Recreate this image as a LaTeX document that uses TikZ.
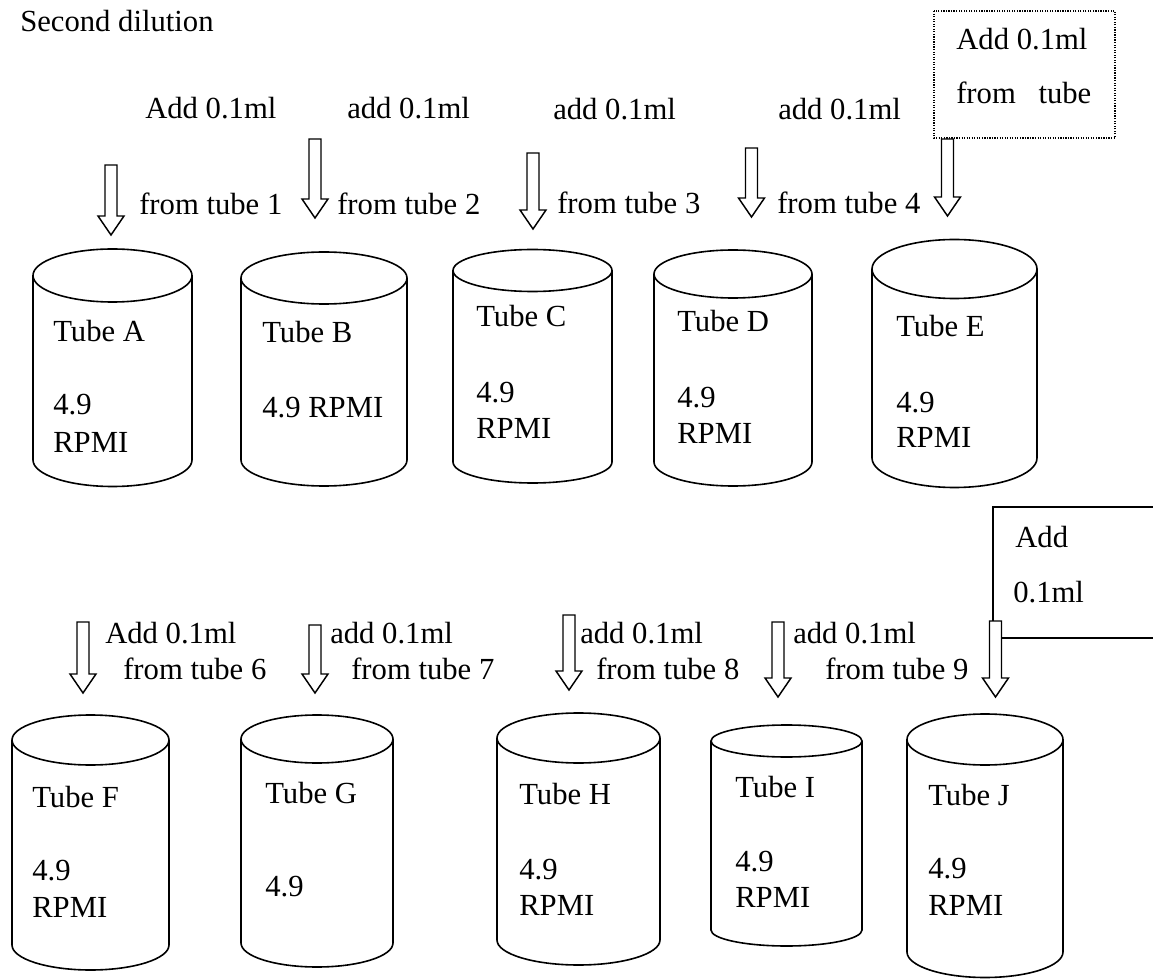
\documentclass[tikz,border=0pt]{standalone}
\usepackage{fontspec}
\setmainfont{Liberation Serif}
\usetikzlibrary{calc}

\tikzset{
  canline/.style={line width=1.2pt},
  blockline/.style={line width=1.1pt, fill=white, line join=miter},
  lbl/.style={anchor=base west, inner sep=0pt, font=\fontsize{23}{27}\selectfont},
  noteframe/.style={line width=0.9pt, densely dotted},
  openframe/.style={line width=1pt},
}

% a tube: #1 name, #2 left x, #3 right x, #4 y of the rim centre, #5 rim half-height, #6 y where the sides end
\newcommand\tubecan[6]{%
  \coordinate (#1) at ({(#2+#3)/2},#4);
  \draw[canline] (#1) ellipse [x radius={(#3-#2)/2}, y radius=#5];
  \draw[canline] (#2,#4) -- (#2,#6)
    arc[start angle=180, end angle=0, x radius={(#3-#2)/2}, y radius=#5] -- (#3,#4);
}

% hollow block arrow from coordinate #1 (shaft top) down to coordinate #2 (tip)
\newcommand\blockarrow[2]{%
  \draw[blockline] let \p1=(#1), \p2=(#2) in
    ({\x2-4.5pt},{\y1}) -- ({\x2+4.5pt},{\y1}) -- ({\x2+4.5pt},{\y2+14.25pt})
    -- ({\x2+9.75pt},{\y2+14.25pt}) -- ({\x2},{\y2}) -- ({\x2-9.75pt},{\y2+14.25pt})
    -- ({\x2-4.5pt},{\y2+14.25pt}) -- cycle;
}

\begin{document}
\begin{tikzpicture}[x=0.75pt,y=-0.75pt]
\useasboundingbox (0,0) rectangle (1153,980);

\node[lbl] (title) at (20,32) {Second dilution};

% ---------- first row ----------
\draw[noteframe] (934,11) rectangle (1115,138);
\node[lbl] (note1a) at (956,50) {Add 0.1ml};
\node[lbl] (note1b) at (956,104) {from\hspace{17pt}tube};

\node[lbl] (addA) at (145,119) {Add 0.1ml};
\node[lbl] (addB) at (347,119) {add 0.1ml};
\node[lbl] (addC) at (553,120) {add 0.1ml};
\node[lbl] (addD) at (778,120) {add 0.1ml};

\node[lbl] (from1) at (139,215) {from tube 1};
\node[lbl] (from2) at (337,215) {from tube 2};
\node[lbl] (from3) at (557,214) {from tube 3};
\node[lbl] (from4) at (777,214) {from tube 4};

\tubecan{tubeA}{33}{192}{275.5}{26.5}{460}
\tubecan{tubeB}{241}{407}{278}{26}{460}
\tubecan{tubeC}{453}{612}{270.5}{21}{462}
\tubecan{tubeD}{654}{812}{274}{24}{462}
\tubecan{tubeE}{872}{1037}{269}{29.5}{458}

\coordinate (a1t) at (111,165);   \coordinate (a1b) at (111,235);
\coordinate (a2t) at (315,139);   \coordinate (a2b) at (315,218);
\coordinate (a3t) at (533,153);   \coordinate (a3b) at (533,229);
\coordinate (a4t) at (751.5,148); \coordinate (a4b) at (751.5,217);
\coordinate (a5t) at (947.5,139); \coordinate (a5b) at (947.5,216);
\blockarrow{a1t}{a1b}
\blockarrow{a2t}{a2b}
\blockarrow{a3t}{a3b}
\blockarrow{a4t}{a4b}
\blockarrow{a5t}{a5b}

\node[lbl] (tA1) at (53,342) {Tube A};
\node[lbl] (tA2) at (53,415) {4.9};
\node[lbl] (tA3) at (53,452) {RPMI};
\node[lbl] (tB1) at (262,343) {Tube B};
\node[lbl] (tB2) at (262,418) {4.9 RPMI};
\node[lbl] (tC1) at (476,327) {Tube C};
\node[lbl] (tC2) at (476,403) {4.9};
\node[lbl] (tC3) at (476,438) {RPMI};
\node[lbl] (tD1) at (677,332) {Tube D};
\node[lbl] (tD2) at (677,407) {4.9};
\node[lbl] (tD3) at (677,443) {RPMI};
\node[lbl] (tE1) at (896,337) {Tube E};
\node[lbl] (tE2) at (896,412) {4.9};
\node[lbl] (tE3) at (896,447) {RPMI};

% ---------- second row ----------
\draw[openframe] (1153,507) -- (993,507) -- (993,638) -- (1153,638);
\node[lbl] (note2a) at (1015,547) {Add};
\node[lbl] (note2b) at (1013,602) {0.1ml};

\node[lbl] (addF) at (105,643) {Add 0.1ml};
\node[lbl] (addG) at (330,643) {add 0.1ml};
\node[lbl] (addH) at (580,643) {add 0.1ml};
\node[lbl] (addI) at (793,643) {add 0.1ml};

\node[lbl] (from6) at (123,679) {from tube 6};
\node[lbl] (from7) at (351,679) {from tube 7};
\node[lbl] (from8) at (596,679) {from tube 8};
\node[lbl] (from9) at (825,679) {from tube 9};

\tubecan{tubeF}{12}{169}{740}{25}{945}
\tubecan{tubeG}{241}{393}{739}{24}{943}
\tubecan{tubeH}{497}{660}{738}{25}{940}
\tubecan{tubeI}{711}{862}{741}{16}{930}
\tubecan{tubeJ}{907}{1063}{739.5}{25.5}{952}

\coordinate (a6t) at (83,622);     \coordinate (a6b) at (83,693);
\coordinate (a7t) at (315,625);    \coordinate (a7b) at (315,693);
\coordinate (a8t) at (569,615);    \coordinate (a8b) at (569,690);
\coordinate (a9t) at (778,622);    \coordinate (a9b) at (778,697);
\coordinate (a10t) at (995.5,621); \coordinate (a10b) at (995.5,697);
\blockarrow{a6t}{a6b}
\blockarrow{a7t}{a7b}
\blockarrow{a8t}{a8b}
\blockarrow{a9t}{a9b}
\blockarrow{a10t}{a10b}

\node[lbl] (tF1) at (32,807) {Tube F};
\node[lbl] (tF2) at (32,880) {4.9};
\node[lbl] (tF3) at (32,917) {RPMI};
\node[lbl] (tG1) at (265,803) {Tube G};
\node[lbl] (tG2) at (265,896) {4.9};
\node[lbl] (tH1) at (519,804) {Tube H};
\node[lbl] (tH2) at (519,879) {4.9};
\node[lbl] (tH3) at (519,915) {RPMI};
\node[lbl] (tI1) at (735,797) {Tube I};
\node[lbl] (tI2) at (735,871) {4.9};
\node[lbl] (tI3) at (735,907) {RPMI};
\node[lbl] (tJ1) at (928,805) {Tube J};
\node[lbl] (tJ2) at (928,878) {4.9};
\node[lbl] (tJ3) at (928,915) {RPMI};
\end{tikzpicture}
\end{document}
